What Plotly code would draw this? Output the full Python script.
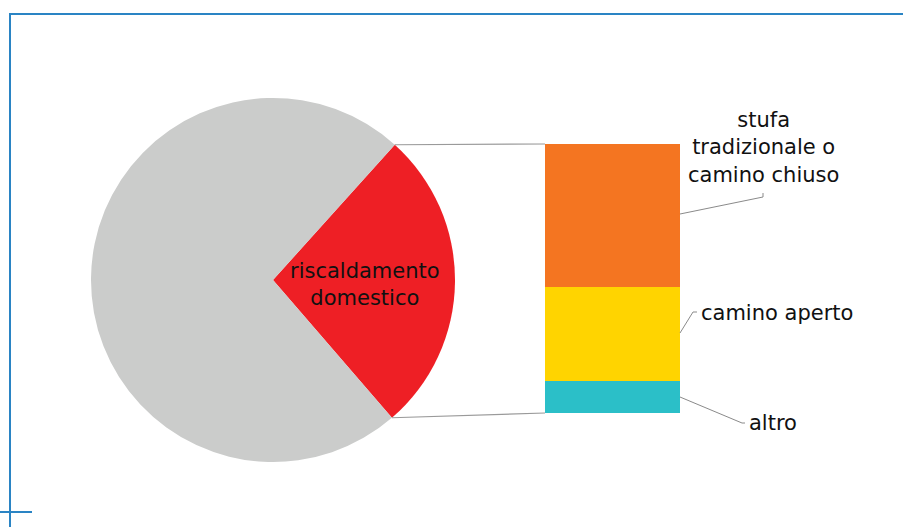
import math
import plotly.graph_objects as go

# ---- data ----
pie_labels = ["riscaldamento domestico", "altro"]
pie_values = [27, 73]
pie_colors = ["#EE1F25", "#CBCCCB"]

bar_labels = ["altro", "camino aperto", "stufa tradizionale o camino chiuso"]
bar_values = [12, 35, 53]
bar_colors = ["#2BBFC8", "#FFD400", "#F47521"]

W, H = 903, 527
def px(x): return x / W
def py(y): return 1 - y / H

# pie geometry (pixels)
cx, cy, r = 273, 280, 182
rotation = 42.0  # degrees clockwise from 12 o'clock where first slice starts

# bar geometry (pixels)
bx0, bx1, by_top, by_bot = 545, 680, 144, 413

fig = go.Figure()
fig.add_trace(go.Pie(
    labels=pie_labels, values=pie_values, sort=False, direction="clockwise",
    rotation=rotation, marker=dict(colors=pie_colors), textinfo="none",
    hoverinfo="skip", showlegend=False,
    domain=dict(x=[px(cx - r), px(cx + r)], y=[py(cy + r), py(cy - r)]),
))
for lab, val, col in zip(bar_labels, bar_values, bar_colors):
    fig.add_trace(go.Bar(x=[0], y=[val], name=lab, marker=dict(color=col, line=dict(width=0)),
                         width=1, showlegend=False, hoverinfo="skip"))

fig.update_layout(
    width=W, height=H, autosize=False, barmode="stack",
    margin=dict(l=0, r=0, t=0, b=0), paper_bgcolor="white", plot_bgcolor="rgba(0,0,0,0)",
    xaxis=dict(domain=[px(bx0), px(bx1)], range=[-0.5, 0.5], visible=False, fixedrange=True),
    yaxis=dict(domain=[py(by_bot), py(by_top)], range=[0, sum(bar_values)], visible=False, fixedrange=True),
    font=dict(family="DejaVu Sans", color="#111111"),
)

# connector lines pie -> bar, computed from slice angles
tot = sum(pie_values)
a_start = math.radians(rotation)
a_end = math.radians(rotation + 360 * pie_values[0] / tot)
p1 = (cx + r * math.sin(a_start), cy - r * math.cos(a_start))
p2 = (cx + r * math.sin(a_end), cy - r * math.cos(a_end))
line_style = dict(color="#9a9a9a", width=1.2)
fig.add_shape(type="line", xref="paper", yref="paper", x0=px(p1[0]), y0=py(p1[1]),
              x1=px(bx0), y1=py(by_top), line=line_style)
fig.add_shape(type="line", xref="paper", yref="paper", x0=px(p2[0]), y0=py(p2[1]),
              x1=px(bx0), y1=py(by_bot), line=line_style)

# label leader lines
lead = dict(color="#8a8a8a", width=1)
def path(points):
    d = "M " + " L ".join(f"{px(x)},{py(y)}" for x, y in points)
    return d
fig.add_shape(type="path", xref="paper", yref="paper", path=path([(680, 214), (763, 197), (763, 193)]), line=lead)
fig.add_shape(type="path", xref="paper", yref="paper", path=path([(680, 333), (693, 312), (697, 312)]), line=lead)
fig.add_shape(type="path", xref="paper", yref="paper", path=path([(680, 397), (742, 423), (745, 423)]), line=lead)

fs = 21
fig.add_annotation(x=px(365), y=py(284), xref="paper", yref="paper", text="riscaldamento<br>domestico",
                   showarrow=False, font=dict(size=fs), xanchor="center", yanchor="middle")
fig.add_annotation(x=px(763), y=py(148), xref="paper", yref="paper", text="stufa<br>tradizionale o<br>camino chiuso",
                   showarrow=False, font=dict(size=fs), xanchor="center", yanchor="middle")
fig.add_annotation(x=px(699), y=py(313), xref="paper", yref="paper", text="camino aperto",
                   showarrow=False, font=dict(size=fs), xanchor="left", yanchor="middle")
fig.add_annotation(x=px(747), y=py(423), xref="paper", yref="paper", text="altro",
                   showarrow=False, font=dict(size=fs), xanchor="left", yanchor="middle")

# blue frame
blue = dict(color="#2A84C4", width=2)
fig.add_shape(type="line", xref="paper", yref="paper", x0=px(9), y0=py(14), x1=1, y1=py(14), line=blue)
fig.add_shape(type="line", xref="paper", yref="paper", x0=px(10), y0=py(13), x1=px(10), y1=0, line=blue)
fig.add_shape(type="line", xref="paper", yref="paper", x0=0, y0=py(512), x1=px(32), y1=py(512), line=blue)

fig.write_html("out.html", config={"displayModeBar": False, "staticPlot": True},
               post_script="document.body.style.margin='0';document.body.style.overflow='hidden';")
